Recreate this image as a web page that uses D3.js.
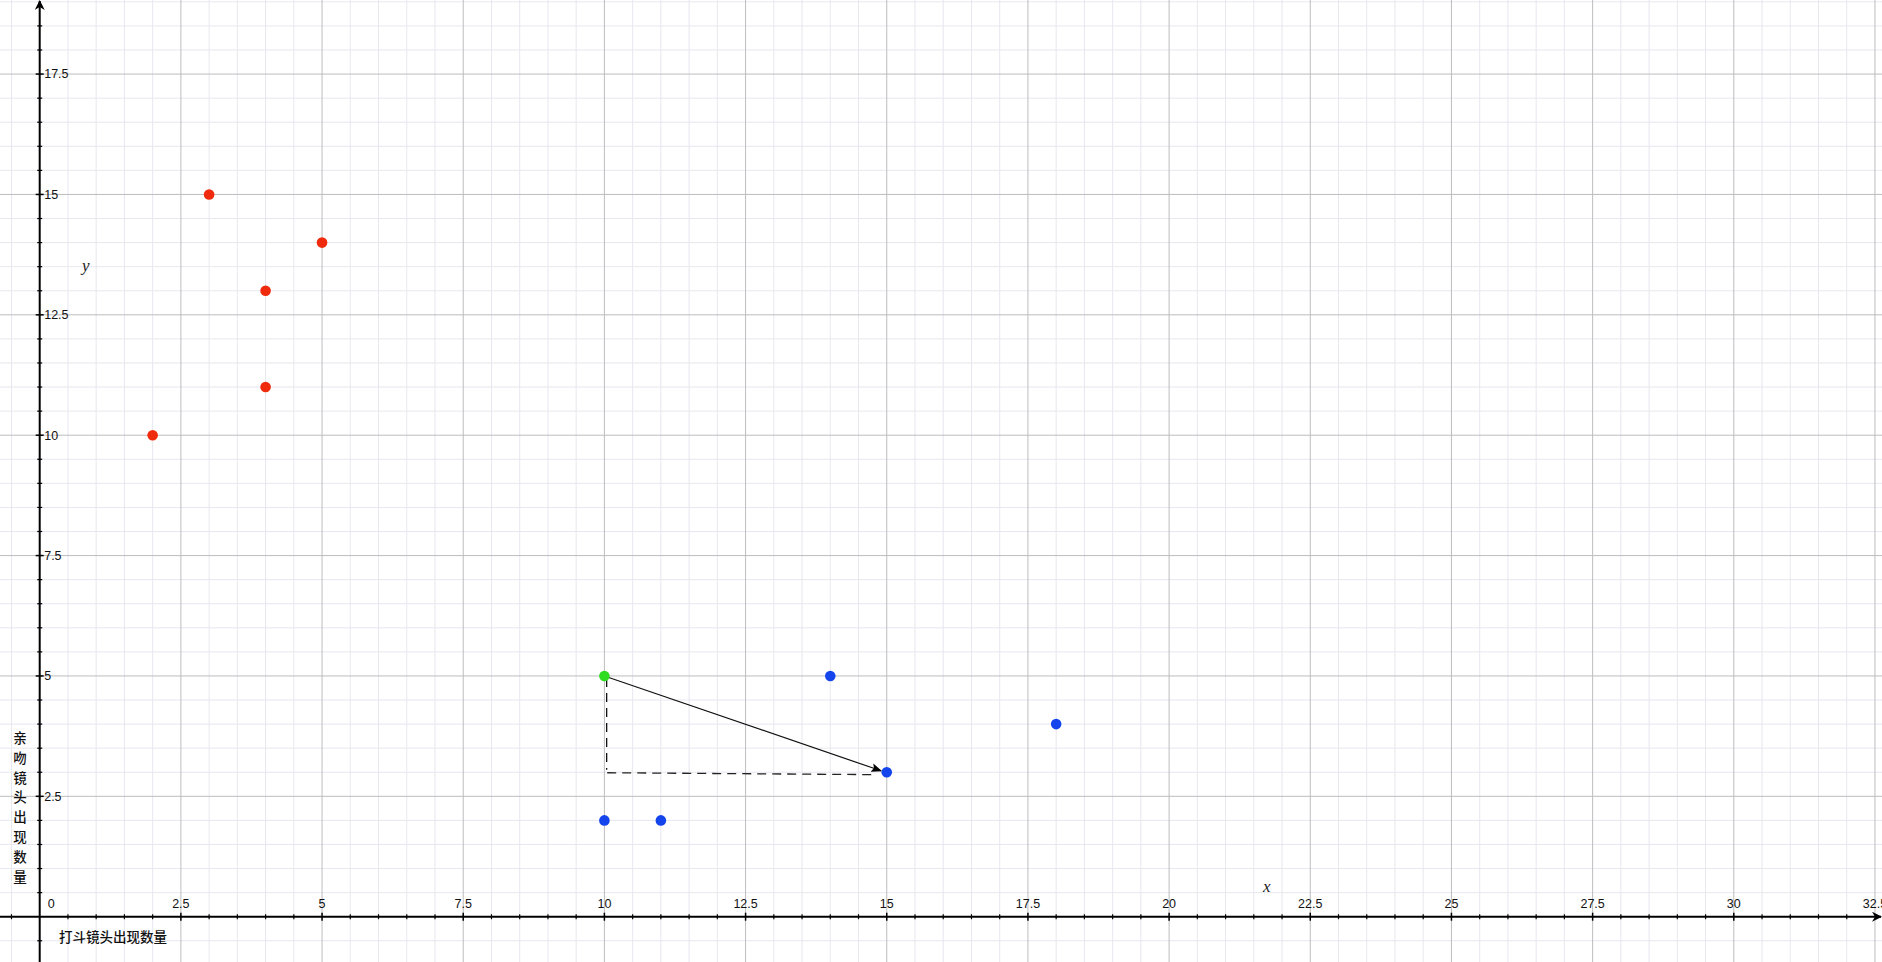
<!DOCTYPE html>
<html>
<head>
<meta charset="utf-8">
<script src="https://cdn.jsdelivr.net/npm/d3@7/dist/d3.min.js"></script>
<style>
  html, body { margin: 0; padding: 0; background: #fff; overflow: hidden; }
  svg { display: block; }
</style>
</head>
<body>
<svg id="chart" width="1882" height="962"></svg>
<script>
// ---- data ----
const redX = [2, 3, 4, 4, 5];
const redY = [10, 15, 13, 11, 14];
const blueX = [10, 11, 14, 15, 18];
const blueY = [2, 2, 5, 3, 4];
const greenX = [10];
const greenY = [5];
const arrowFrom = [10, 5];
const arrowTo = [14.9, 3.03];
const dashVertical = [[10.04, 4.96], [10.04, 3.05]];
const dashHorizontal = [[10.05, 2.99], [14.82, 2.95]];
const xTickLabels = [0, 2.5, 5, 7.5, 10, 12.5, 15, 17.5, 20, 22.5, 25, 27.5, 30, 32.5];
const yTickLabels = [2.5, 5, 7.5, 10, 12.5, 15, 17.5];
const xAxisTitle = "打斗镜头出现数量";
const yAxisTitle = "亲吻镜头出现数量";

// ---- layout ----
const W = 1882, H = 962;
const x0px = 39.7, y0px = 916.7, ux = 56.47, uy = 48.15;
const x = d3.scaleLinear().domain([0, 1]).range([x0px, x0px + ux]);
const y = d3.scaleLinear().domain([0, 1]).range([y0px, y0px - uy]);
const xMin = x.invert(0), xMax = x.invert(W);
const yMin = y.invert(H), yMax = y.invert(0);

const svg = d3.select("#chart");

// grid
const minorX = d3.range(Math.ceil(xMin * 2) / 2, xMax, 0.5);
const minorY = d3.range(Math.ceil(yMin * 2) / 2, yMax, 0.5);
const isMajor = v => Math.abs(v / 2.5 - Math.round(v / 2.5)) < 1e-6;

const grid = svg.append("g");
grid.selectAll(".mx").data(minorX.filter(v => !isMajor(v))).join("line")
  .attr("x1", d => x(d)).attr("x2", d => x(d)).attr("y1", 0).attr("y2", H)
  .attr("stroke", "#e7e7ef").attr("stroke-width", 1);
grid.selectAll(".my").data(minorY.filter(v => !isMajor(v))).join("line")
  .attr("y1", d => y(d)).attr("y2", d => y(d)).attr("x1", 0).attr("x2", W)
  .attr("stroke", "#e7e7ef").attr("stroke-width", 1);
grid.selectAll(".Mx").data(minorX.filter(v => isMajor(v) && Math.abs(v) > 1e-6)).join("line")
  .attr("x1", d => x(d)).attr("x2", d => x(d)).attr("y1", 0).attr("y2", H)
  .attr("stroke", "#bdbdbd").attr("stroke-width", 1);
grid.selectAll(".My").data(minorY.filter(v => isMajor(v) && Math.abs(v) > 1e-6)).join("line")
  .attr("y1", d => y(d)).attr("y2", d => y(d)).attr("x1", 0).attr("x2", W)
  .attr("stroke", "#bdbdbd").attr("stroke-width", 1);

// axes
svg.append("defs").append("marker")
  .attr("id", "axArrow").attr("viewBox", "0 0 10 10").attr("refX", 9).attr("refY", 5)
  .attr("markerWidth", 5).attr("markerHeight", 5).attr("markerUnits", "strokeWidth")
  .attr("orient", "auto")
  .append("path").attr("d", "M0,0 L10,5 L0,10 L3,5 Z").attr("fill", "#000");
svg.select("defs").append("marker")
  .attr("id", "vecArrow").attr("viewBox", "0 0 10 10").attr("refX", 9).attr("refY", 5)
  .attr("markerWidth", 9).attr("markerHeight", 9).attr("markerUnits", "strokeWidth")
  .attr("orient", "auto")
  .append("path").attr("d", "M0,1 L10,5 L0,9 L2,5 Z").attr("fill", "#000");

const axes = svg.append("g");
axes.append("line").attr("x1", 0).attr("x2", W - 1).attr("y1", y(0)).attr("y2", y(0))
  .attr("stroke", "#000").attr("stroke-width", 2).attr("marker-end", "url(#axArrow)");
axes.append("line").attr("x1", x(0)).attr("x2", x(0)).attr("y1", H).attr("y2", 1)
  .attr("stroke", "#000").attr("stroke-width", 2).attr("marker-end", "url(#axArrow)");

// ticks
axes.selectAll(".tx").data(minorX.filter(v => Math.abs(v) > 1e-6 && x(v) < W - 8)).join("line")
  .attr("x1", d => x(d)).attr("x2", d => x(d))
  .attr("y1", d => y(0) - (isMajor(d) ? 4 : 2.5)).attr("y2", d => y(0) + (isMajor(d) ? 4 : 2.5))
  .attr("stroke", "#000").attr("stroke-width", d => isMajor(d) ? 1.5 : 1.2);
axes.selectAll(".ty").data(minorY.filter(v => Math.abs(v) > 1e-6 && y(v) > 8)).join("line")
  .attr("y1", d => y(d)).attr("y2", d => y(d))
  .attr("x1", d => x(0) - (isMajor(d) ? 4 : 2.5)).attr("x2", d => x(0) + (isMajor(d) ? 4 : 2.5))
  .attr("stroke", "#000").attr("stroke-width", d => isMajor(d) ? 1.5 : 1.2);

// tick labels
const fmt = d => String(d);
axes.selectAll(".lx").data(xTickLabels).join("text")
  .attr("x", d => d === 0 ? x(d) + 8 : x(d))
  .attr("y", y(0) - 9)
  .attr("text-anchor", d => d === 0 ? "start" : "middle")
  .attr("font-family", "Liberation Sans, Arial, sans-serif").attr("font-size", 12.5)
  .attr("fill", "#111").text(fmt);
axes.selectAll(".ly").data(yTickLabels).join("text")
  .attr("x", x(0) + 4.5)
  .attr("y", d => y(d))
  .attr("dy", "0.35em")
  .attr("font-family", "Liberation Sans, Arial, sans-serif").attr("font-size", 12.5)
  .attr("fill", "#111").text(fmt);

// italic axis names
svg.append("text").attr("x", 82).attr("y", 271)
  .attr("font-family", "Liberation Serif, Times New Roman, serif").attr("font-style", "italic")
  .attr("font-size", 17).attr("fill", "#222").text("y");
svg.append("text").attr("x", 1263).attr("y", 892)
  .attr("font-family", "Liberation Serif, Times New Roman, serif").attr("font-style", "italic")
  .attr("font-size", 17).attr("fill", "#222").text("x");

// axis titles
svg.append("text").attr("x", 59).attr("y", 942)
  .attr("font-family", "Noto Sans CJK SC, sans-serif").attr("font-size", 13.5).attr("font-weight", 500)
  .attr("fill", "#111").text(xAxisTitle);
const yt = svg.append("g");
yt.selectAll("text").data(Array.from(yAxisTitle)).join("text")
  .attr("x", 20).attr("y", (d, i) => 743 + i * 19.8)
  .attr("text-anchor", "middle")
  .attr("font-family", "Noto Sans CJK SC, sans-serif").attr("font-size", 13.5).attr("font-weight", 500)
  .attr("fill", "#111").text(d => d);

// dashed guides
const line = d3.line().x(d => x(d[0])).y(d => y(d[1]));
svg.append("path").attr("d", line(dashVertical)).attr("stroke", "#111").attr("stroke-width", 1.3)
  .attr("stroke-dasharray", "9,6").attr("fill", "none");
svg.append("path").attr("d", line(dashHorizontal)).attr("stroke", "#222").attr("stroke-width", 1.3)
  .attr("stroke-dasharray", "9,6").attr("fill", "none");

// vector
svg.append("path").attr("d", line([arrowFrom, arrowTo])).attr("stroke", "#111").attr("stroke-width", 1.2)
  .attr("fill", "none").attr("marker-end", "url(#vecArrow)");

// points
const pts = svg.append("g");
const dot = (xs, ys, color) => pts.append("g").selectAll("circle").data(xs.map((v, i) => [v, ys[i]])).join("circle")
  .attr("cx", d => x(d[0])).attr("cy", d => y(d[1])).attr("r", 5.3).attr("fill", color);
dot(redX, redY, "#f02a0c");
dot(blueX, blueY, "#1444ec");
dot(greenX, greenY, "#2fdc22");
</script>
</body>
</html>
